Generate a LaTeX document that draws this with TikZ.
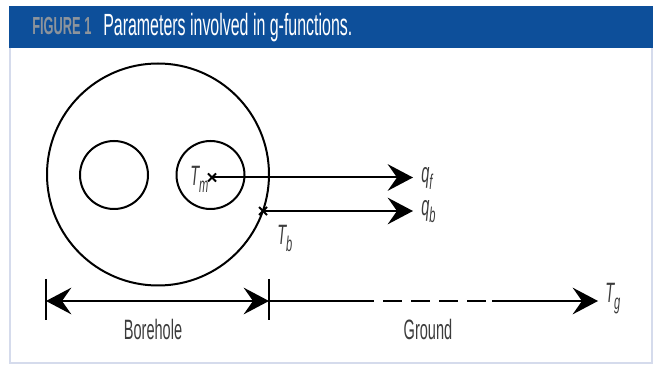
\documentclass[tikz,border=0pt]{standalone}
\usepackage{fontspec}
\setmainfont{Liberation Sans}
\newfontfamily\cond{Liberation Sans}[FakeStretch=0.52]
\usetikzlibrary{arrows.meta,calc}
\definecolor{hdrblue}{HTML}{0D4F9A}
\definecolor{framec}{HTML}{D5DBEC}
\definecolor{figgray}{HTML}{8D949C}
\definecolor{txtgray}{HTML}{3C3C3C}
\tikzset{
  px/.style={x={(0.75pt,0)},y={(0,-0.75pt)}},
  ring/.style={draw=black,line width=1.5pt},
  bigtip/.tip={Stealth[length=19pt,width=20pt,inset=7pt]},
  flow/.style={line width=1.5pt,-bigtip},
  dim/.style={line width=1.5pt},
  lbl/.style={inner sep=0pt,text=txtgray,font=\cond\fontsize{21}{24}\selectfont},
  mlbl/.style={inner sep=0pt,text=txtgray,font=\cond\itshape\fontsize{21}{24}\selectfont},
  crossmark/.style={line width=1.5pt}
}
\newcommand{\subtx}[1]{\raisebox{-0.45ex}{\fontsize{16}{18}\selectfont #1}}
\begin{document}
\begin{tikzpicture}[px]
\useasboundingbox (0,0) rectangle (653,366);
% header
\fill[hdrblue] (9,6) rectangle (653,48);
\node[anchor=base west,inner sep=0pt,text=figgray,font=\cond\bfseries\fontsize{18.5}{20}\selectfont] (fig) at (32,35) {FIGURE 1};
\node[anchor=base west,inner sep=0pt,text=white,font=\cond\fontsize{23}{26}\selectfont] (title) at (103,36) {Parameters involved in g-functions.};
% frame
\draw[framec,line width=1.5pt] (10,48) -- (10,363) -- (652,363) -- (652,48);
% circles
\node[ring,circle,minimum size=222*0.75pt,inner sep=0pt] (bore) at (158,174.5) {};
\node[ring,circle,minimum size=68*0.75pt,inner sep=0pt] (pipeL) at (114,175) {};
\node[ring,circle,minimum size=68*0.75pt,inner sep=0pt] (pipeR) at (210.5,175) {};
% points
\coordinate (tm) at (212,177.5);
\coordinate (tb) at (263,211);
\coordinate (qfend) at (413,177.5);
\coordinate (qbend) at (413,211);
\draw[crossmark] ($(tm)+(-4,-4)$) -- ($(tm)+(4,4)$) ($(tm)+(-4,4)$) -- ($(tm)+(4,-4)$);
\draw[crossmark] ($(tb)+(-4,-4)$) -- ($(tb)+(4,4)$) ($(tb)+(-4,4)$) -- ($(tb)+(4,-4)$);
\draw[flow] (tm) -- (qfend);
\draw[flow] (tb) -- (qbend);
% labels
\node[mlbl,anchor=base west] (Tm) at (190,186) {T\subtx{m}};
\node[mlbl,anchor=base west] (qf) at (421,183) {q\subtx{f}};
\node[mlbl,anchor=base west] (qb) at (421,216) {q\subtx{b}};
\node[mlbl,anchor=base west] (Tb) at (277,245) {T\subtx{b}};
\node[mlbl,anchor=base west] (Tg) at (605,303) {T\subtx{g}};
% dimension line
\coordinate (L) at (46,301);
\coordinate (M) at (269,301);
\coordinate (R) at (598,301);
\draw[dim] (46,279) -- (46,320);
\draw[dim] (269,279) -- (269,320);
\draw[dim,bigtip-bigtip] (L) -- (M);
\draw[dim] (M) -- (374,301);
\draw[dim,dash pattern=on 14.25pt off 6.75pt] (383,301) -- (486,301);
\draw[flow] (492,301) -- (R);
\node[lbl,anchor=base] (bh) at (153,340) {Borehole};
\node[lbl,anchor=base] (gr) at (428,340) {Ground};
\end{tikzpicture}
\end{document}
